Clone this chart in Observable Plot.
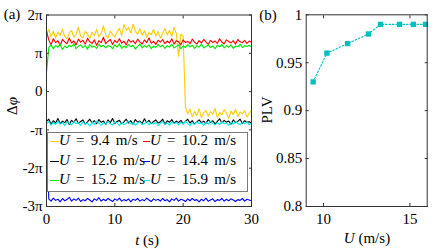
<!DOCTYPE html>
<html><head><meta charset="utf-8">
<script src="https://cdn.jsdelivr.net/npm/d3@7"></script>
<script src="https://cdn.jsdelivr.net/npm/@observablehq/plot@0.6"></script>
<style>
body{margin:0;background:#fff;}
#wrap{position:relative;width:443px;height:249px;overflow:hidden;font-family:'Liberation Serif';color:#000;background:#fff;}
#wrap *{font-family:'Liberation Serif';}
.abs{position:absolute;white-space:pre;font-size:15px;line-height:1;}
.ctr{transform:translate(-50%,-50%);}
.rot{transform:translate(-50%,-50%) rotate(-90deg);}
#legend{position:absolute;left:47px;top:132px;width:201px;height:60px;border:1.4px solid #7a7a7a;background:#fff;box-sizing:border-box;}
.li{position:absolute;font-size:15px;line-height:1;white-space:pre;word-spacing:2.5px;}
.ls{position:absolute;height:0;border-top:1.2px solid;}
svg{position:absolute;overflow:visible;}
svg text{font-family:'Liberation Serif';font-size:15px;}
</style></head><body><div id="wrap"></div>
<script>
// ---- data ----
const speeds = ["9.4", "10.2", "12.6", "14.4", "15.2", "15.9"];
const colors = ["#FFCC00", "#FF0000", "#000000", "#0000FF", "#00E600", "#00F0F0"];
// phase difference (units of pi), sampled every 1/3 s over 0..30 s
const dphi_9_4 = [
1.50,1.62,1.43,1.58,1.40,1.55,1.47,1.63,1.44,1.38,
1.53,1.60,1.42,1.50,1.68,1.45,1.40,1.57,1.50,1.39,
1.55,1.46,1.62,1.43,1.52,1.72,1.47,1.40,1.58,1.49,
1.42,1.56,1.65,1.46,1.75,1.60,1.68,1.52,1.76,1.57,
1.50,1.64,1.47,1.59,1.42,1.54,1.49,1.62,1.45,1.57,
1.40,1.52,1.65,1.48,1.60,1.44,1.68,1.52,0.92,1.50,
1.45,
-0.40,-0.58,-0.46,-0.66,-0.52,-0.62,-0.45,-0.68,-0.55,-0.49,
-0.64,-0.52,-0.59,-0.44,-0.67,-0.54,-0.61,-0.47,-0.56,-0.70,
-0.51,-0.60,-0.46,-0.65,-0.53,-0.58,-0.50,-0.66,-0.57,-0.48];
const dphi_10_2 = [
1.58,1.35,1.22,1.38,1.28,1.33,1.20,1.36,1.30,1.25,
1.40,1.27,1.32,1.22,1.37,1.29,1.34,1.24,1.39,1.30,
1.26,1.35,1.21,1.33,1.28,1.42,1.25,1.31,1.36,1.23,
1.34,1.28,1.38,1.26,1.32,1.22,1.36,1.29,1.33,1.25,
1.37,1.30,1.24,1.35,1.28,1.40,1.26,1.31,1.23,1.34,
1.29,1.36,1.25,1.32,1.27,1.38,1.24,1.33,1.30,1.22,
1.35,1.28,1.31,1.25,1.37,1.29,1.24,1.33,1.27,1.36,
1.30,1.23,1.34,1.28,1.32,1.26,1.38,1.29,1.25,1.35,
1.31,1.27,1.33,1.24,1.36,1.30,1.28,1.34,1.26,1.32,1.29];
const dphi_12_6 = [
-0.78,-0.72,-0.85,-0.76,-0.82,-0.70,-0.84,-0.77,-0.81,-0.73,
-0.86,-0.75,-0.80,-0.71,-0.83,-0.78,-0.74,-0.85,-0.79,-0.72,
-0.82,-0.76,-0.84,-0.73,-0.80,-0.77,-0.86,-0.74,-0.81,-0.70,
-0.83,-0.78,-0.75,-0.84,-0.79,-0.72,-0.82,-0.76,-0.85,-0.73,
-0.80,-0.77,-0.83,-0.71,-0.81,-0.75,-0.84,-0.78,-0.74,-0.82,
-0.79,-0.72,-0.85,-0.76,-0.80,-0.73,-0.83,-0.77,-0.81,-0.75,
-0.84,-0.78,-0.72,-0.82,-0.76,-0.85,-0.79,-0.74,-0.81,-0.77,
-0.83,-0.73,-0.80,-0.76,-0.84,-0.78,-0.71,-0.82,-0.75,-0.80,
-0.77,-0.85,-0.74,-0.81,-0.78,-0.72,-0.83,-0.76,-0.80,-0.79,-0.82];
const dphi_14_4 = [
-1.00,-2.80,-2.86,-2.78,-2.84,-2.81,-2.88,-2.79,-2.85,-2.82,
-2.76,-2.86,-2.80,-2.84,-2.78,-2.87,-2.82,-2.85,-2.79,-2.83,
-2.88,-2.80,-2.84,-2.77,-2.86,-2.81,-2.85,-2.79,-2.83,-2.87,
-2.80,-2.84,-2.78,-2.86,-2.82,-2.85,-2.80,-2.88,-2.81,-2.84,
-2.79,-2.86,-2.82,-2.85,-2.78,-2.83,-2.87,-2.80,-2.84,-2.81,
-2.86,-2.79,-2.85,-2.82,-2.88,-2.80,-2.84,-2.78,-2.86,-2.81,
-2.83,-2.87,-2.80,-2.85,-2.79,-2.84,-2.82,-2.88,-2.81,-2.85,
-2.78,-2.86,-2.83,-2.80,-2.87,-2.82,-2.84,-2.79,-2.86,-2.81,
-2.85,-2.80,-2.83,-2.87,-2.82,-2.84,-2.79,-2.86,-2.81,-2.83,-2.85];
const dphi_15_2 = [
0.50,1.15,1.22,1.12,1.20,1.16,1.24,1.10,1.19,1.14,
1.21,1.17,1.25,1.12,1.18,1.22,1.15,1.20,1.11,1.23,
1.16,1.19,1.13,1.24,1.17,1.21,1.14,1.20,1.18,1.12,
1.22,1.16,1.25,1.13,1.19,1.15,1.23,1.17,1.21,1.11,
1.18,1.24,1.14,1.20,1.16,1.22,1.12,1.19,1.15,1.23,
1.17,1.21,1.13,1.20,1.16,1.24,1.14,1.18,1.22,1.12,
1.19,1.15,1.23,1.17,1.21,1.13,1.20,1.16,1.24,1.14,
1.18,1.22,1.15,1.19,1.12,1.21,1.17,1.23,1.14,1.20,
1.16,1.22,1.13,1.19,1.17,1.24,1.15,1.20,1.18,1.21,1.16];
const dphi_15_9 = [
-0.84,-0.78,-0.88,-0.80,-0.86,-0.77,-0.85,-0.81,-0.89,-0.79,
-0.83,-0.87,-0.78,-0.84,-0.81,-0.88,-0.79,-0.85,-0.82,-0.90,
-0.80,-0.86,-0.77,-0.83,-0.88,-0.81,-0.85,-0.78,-0.84,-0.87,
-0.79,-0.82,-0.89,-0.80,-0.86,-0.83,-0.77,-0.85,-0.81,-0.88,
-0.82,-0.79,-0.86,-0.84,-0.78,-0.87,-0.81,-0.85,-0.80,-0.89,
-0.83,-0.78,-0.86,-0.82,-0.88,-0.79,-0.84,-0.81,-0.87,-0.80,
-0.85,-0.78,-0.83,-0.89,-0.81,-0.86,-0.79,-0.84,-0.82,-0.88,
-0.80,-0.85,-0.77,-0.83,-0.87,-0.81,-0.86,-0.79,-0.84,-0.82,
-0.88,-0.80,-0.85,-0.78,-0.83,-0.86,-0.81,-0.84,-0.79,-0.87,-0.82];
const tEnd = 30;
const plvU = [9.4, 10.2, 11.4, 12.6, 13.3, 14.4, 15.2, 15.9];
const plv  = [0.93, 0.96, 0.97, 0.98, 0.99, 0.99, 0.99, 0.99];
const xTicksA = [0, 10, 20, 30];
const yTicksA = [-3, -2, -1, 0, 1, 2];
const yTickLabelsA = ["-3π", "-2π", "-π", "0", "π", "2π"];
const xTicksB = [10, 15];
const yTicksB = [0.8, 0.85, 0.9, 0.95, 1];
const yTickLabelsB = ["0.8", "0.85", "0.9", "0.95", "1"];

const series = [dphi_9_4, dphi_10_2, dphi_12_6, dphi_14_4, dphi_15_2, dphi_15_9];
const wrap = document.getElementById("wrap");
const axisCol = "#333";
const fmtA = d => yTickLabelsA[yTicksA.indexOf(d)];
const fmtB = d => yTickLabelsB[yTicksB.findIndex(v => Math.abs(v - d) < 1e-9)];
const fmtX = d => String(d);

function axes(xt, yt, yf) {
  return [
    Plot.axisX({ticks: xt, anchor: "bottom", tickSize: -3, tickPadding: 10, tickFormat: fmtX, label: null, stroke: axisCol}),
    Plot.axisX({ticks: xt, anchor: "top", tickSize: -3, tickFormat: () => "", label: null, stroke: axisCol}),
    Plot.axisY({ticks: yt, anchor: "left", tickSize: -3, tickPadding: 7, tickFormat: yf, label: null, stroke: axisCol}),
    Plot.axisY({ticks: yt, anchor: "right", tickSize: -3, tickFormat: () => "", label: null, stroke: axisCol}),
    Plot.frame({stroke: axisCol, strokeWidth: 1})
  ];
}
const plotStyle = {fontFamily: "'Liberation Serif'", fontSize: "15px", background: "transparent", color: "#000"};

// ---- panel (a) ----
const plotA = Plot.plot({
  width: 256, height: 249,
  marginLeft: 46, marginRight: 5, marginTop: 14.5, marginBottom: 43,
  style: plotStyle,
  x: {domain: [0, tEnd]},
  y: {domain: [-3, 2]},
  marks: [
    ...series.map((vals, s) => Plot.line(vals, {
      x: (d, i) => i * tEnd / (vals.length - 1), y: d => d,
      stroke: colors[s], strokeWidth: 1.1
    })),
    ...axes(xTicksA, yTicksA, fmtA)
  ]
});
plotA.style.left = "0px"; plotA.style.top = "0px";
wrap.appendChild(plotA);

// ---- panel (b) ----
const plotB = Plot.plot({
  width: 193, height: 249,
  marginLeft: 55.7, marginRight: 16.3, marginTop: 14.3, marginBottom: 43,
  style: plotStyle,
  x: {domain: [9, 16]},
  y: {domain: [0.8, 1]},
  marks: [
    Plot.line(plvU, {x: d => d, y: (d, i) => plv[i], stroke: "#00BFBF", strokeWidth: 1.1, strokeDasharray: "1.5,2"}),
    Plot.dot(plvU, {x: d => d, y: (d, i) => plv[i], symbol: "square", r: 3, fill: "#00BFBF", stroke: "none"}),
    ...axes(xTicksB, yTicksB, fmtB)
  ]
});
plotB.style.left = "250px"; plotB.style.top = "0px";
wrap.appendChild(plotB);

// ---- text labels ----
function label(html, x, y, cls) {
  const d = document.createElement("div");
  d.className = "abs " + cls;
  d.style.left = x + "px"; d.style.top = y + "px";
  d.innerHTML = html;
  wrap.appendChild(d);
}
label("(a)", 12, 14, "ctr");
label("(b)", 268, 15, "ctr");
label("Δ<i>φ</i>", 12, 106, "rot");
label("PLV", 267, 110, "rot");
label("<i>t</i> (s)", 147, 240, "ctr");
label("<i>U</i> (m/s)", 367, 238, "ctr");

// ---- legend ----
const leg = document.createElement("div");
leg.id = "legend";
wrap.appendChild(leg);
speeds.forEach((u, i) => {
  const col = i % 2, row = Math.floor(i / 2);
  const lx = col === 0 ? 2 : 95;
  const tx = col === 0 ? 11 : 102;
  const cy = 8 + row * 19.5;
  const s = document.createElement("div");
  s.className = "ls";
  s.style.left = lx + "px"; s.style.width = (col === 0 ? 9 : 7) + "px"; s.style.top = (cy) + "px";
  s.style.borderTopColor = colors[i];
  leg.appendChild(s);
  const t = document.createElement("div");
  t.className = "li";
  t.style.left = tx + "px"; t.style.top = (cy - 8) + "px";
  t.innerHTML = "<i>U</i> = " + u + " m/s";
  leg.appendChild(t);
});
</script></body></html>
